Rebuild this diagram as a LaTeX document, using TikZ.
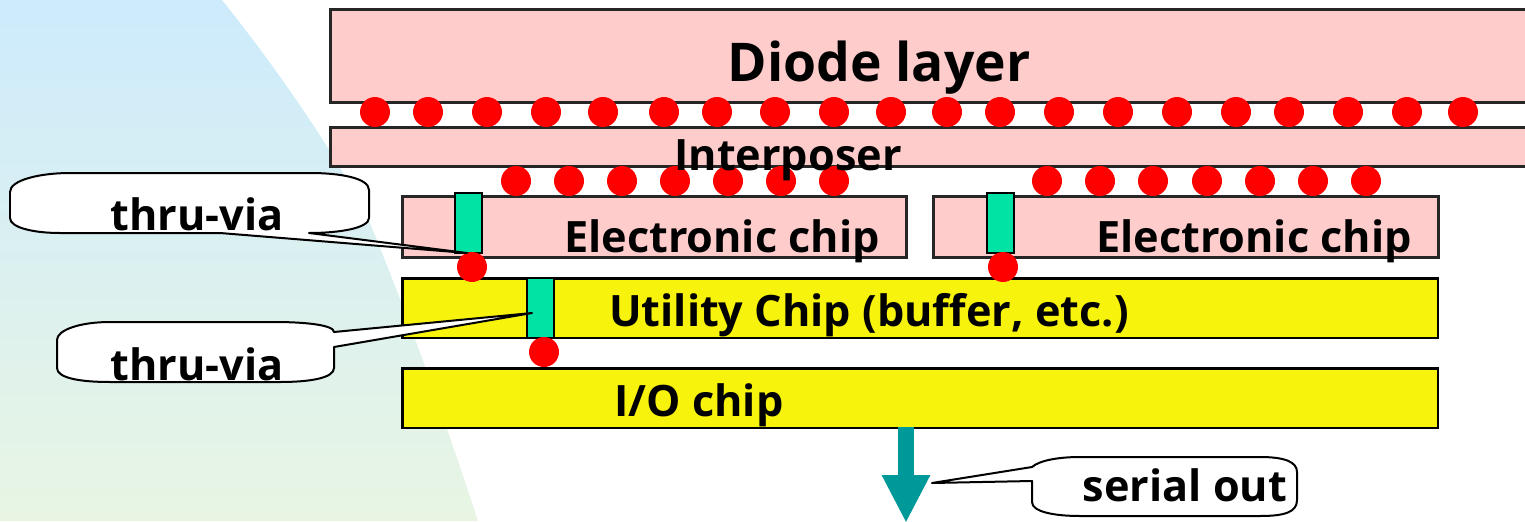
\documentclass[tikz,border=0pt]{standalone}
\usepackage{fontspec}
\setmainfont{Open Sans}
\usepackage{xcolor}
\usetikzlibrary{arrows.meta}
\definecolor{ChipPink}{HTML}{FFCCCC}
\definecolor{ChipYellow}{HTML}{F7F30C}
\definecolor{ViaGreen}{HTML}{00E3A5}
\definecolor{OutTeal}{HTML}{009999}
\definecolor{BgBlue}{HTML}{CDEBFD}
\definecolor{BgGreen}{HTML}{E8F5E3}

\begin{document}
\begin{tikzpicture}[
x=0.02cm, y=-0.02cm,
layer/.style={draw=black!85, line width=0.055cm, inner sep=0pt, fill=ChipPink},
chip/.style={draw=black, line width=0.05cm, inner sep=0pt, fill=ChipYellow},
via/.style={draw=black, line width=0.04cm, inner sep=0pt, fill=ViaGreen, minimum width=0.54cm, minimum height=1.2cm},
bump/.style={circle, fill=red, inner sep=0pt, minimum size=0.6cm},
label/.style={font=\fontsize{24.6}{24.6}\selectfont\bfseries, inner sep=0pt},
callout/.style={draw=black, line width=0.04cm, fill=white, line join=round},
outarrow/.style={-{Triangle[length=0.96cm, width=0.9cm]}, line width=0.32cm, OutTeal}
]
\clip (0,0) rectangle (1525,521);
% background
\shade[top color=BgBlue, bottom color=BgGreen] (0,0) -- (222,0) .. controls (290,85) and (345,170) .. (370,223) .. controls (395,285) and (425,360) .. (478,521) -- (0,521) -- cycle;
% layers
\node[layer, minimum width=24cm, minimum height=1.86cm, anchor=north west] (diode) at (329,8) {};
\node[layer, minimum width=24cm, minimum height=0.78cm, anchor=north west] (interposer) at (329,126) {};
\node[layer, minimum width=10.08cm, minimum height=1.22cm, anchor=north west] (elecA) at (401,195) {};
\node[layer, minimum width=10.1cm, minimum height=1.22cm, anchor=north west] (elecB) at (932,195) {};
\node[chip, minimum width=20.72cm, minimum height=1.2cm, anchor=north west] (utility) at (401,277) {};
\node[chip, minimum width=20.72cm, minimum height=1.2cm, anchor=north west] (io) at (401,367) {};
% vias
\node[via, anchor=north west] (viaA) at (454,192) {};
\node[via, anchor=north west] (viaB) at (986,192) {};
\node[via, anchor=north west] (viaC) at (526,277) {};
% bumps
\foreach \x in {375,428,487,546,603,664,717,775,834,891,947,1000,1059,1118,1177,1236,1289,1348,1407,1463}
  \node[bump] (top\x) at (\x,112) {};
\foreach \x in {516,569,622,675,728,781,834,1047,1100,1153,1207,1260,1313,1366}
  \node[bump] (mid\x) at (\x,181) {};
\node[bump] (bumpA) at (472,267) {};
\node[bump] (bumpB) at (1003,267) {};
\node[bump] (bumpC) at (544,352) {};
% labels
\node[label, font=\fontsize{30.4}{30.4}\selectfont\bfseries] (diodetext) at (879,68) {Diode layer};
\node[label] (intertext) at (788,160) {Interposer};
\node[label] (elecAtext) at (722,241) {Electronic chip};
\node[label] (elecBtext) at (1254,241) {Electronic chip};
\node[label] (utiltext) at (869,315) {Utility Chip (buffer, etc.)};
\node[label] (iotext) at (699,405) {I/O chip};
% serial output
\coordinate (outtip) at (906,523);
\draw[outarrow] (906,427) -- (outtip);
% callouts
\draw[callout] (10,192) .. controls (10,180) and (40,173) .. (70,173) -- (310,173) .. controls (340,173) and (369,178) .. (369,190) -- (369,218) .. controls (369,228) and (340,233) .. (309,233) -- (467,253) -- (220,233) -- (60,233) .. controls (35,233) and (10,228) .. (10,218) -- cycle;
\node[label] (viatextA) at (197,214) {thru-via};
\draw[callout] (57,340) .. controls (57,330) and (80,322) .. (110,322) -- (275,322) .. controls (305,322) and (334,325) .. (334,332) -- (532,313) -- (334,347) -- (334,368) .. controls (334,378) and (310,382) .. (280,382) -- (110,382) .. controls (80,382) and (57,378) .. (57,368) -- cycle;
\node[label] (viatextB) at (197,364) {thru-via};
\draw[callout] (1032,467) .. controls (1040,460) and (1060,457) .. (1080,457) -- (1260,457) .. controls (1285,457) and (1297,462) .. (1297,472) -- (1297,500) .. controls (1297,512) and (1285,516) .. (1260,516) -- (1080,516) .. controls (1055,516) and (1032,512) .. (1032,502) -- (1032,481) -- (932,483) -- cycle;
\node[label] (serialtext) at (1185,485) {serial out};
\end{tikzpicture}
\end{document}
